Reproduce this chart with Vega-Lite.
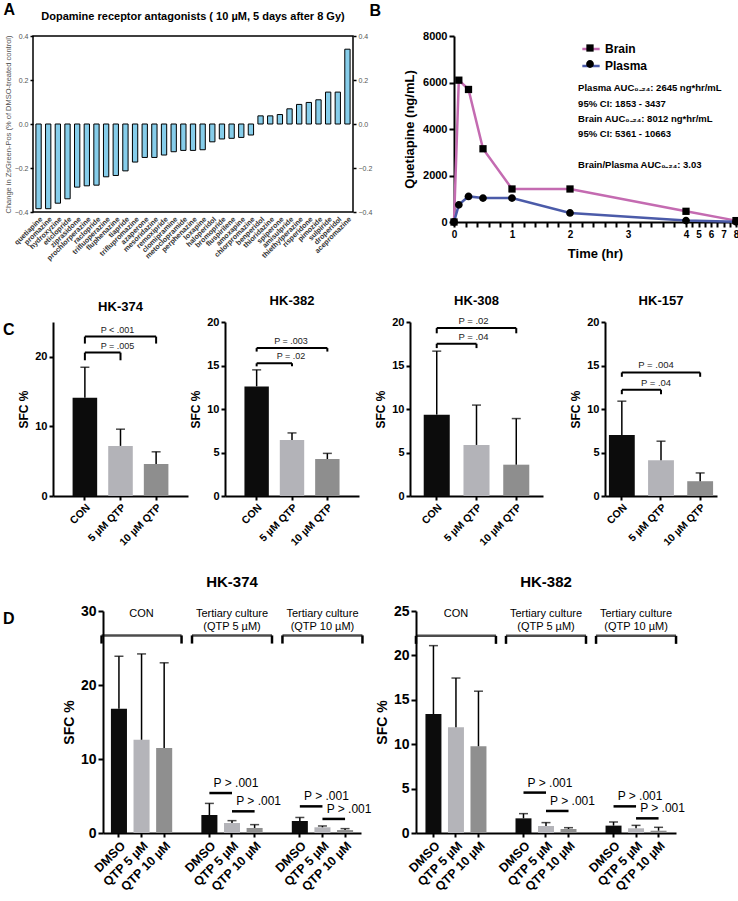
{
"$schema": "https://vega.github.io/schema/vega-lite/v6.json",
"background": "white",
"padding": {"left": 3, "top": 2, "right": 2, "bottom": 0},
"config": {
  "font": "Liberation Sans",
  "view": {"stroke": null},
  "axis": {"grid": false, "domainColor": "black", "domainWidth": 2, "tickColor": "black", "tickWidth": 2, "tickSize": 4, "labelColor": "black", "labelFontWeight": "bold", "labelFontSize": 11, "titleColor": "black", "titleFontWeight": "bold", "titleFontSize": 12, "labelPadding": 2, "titlePadding": 4},
  "title": {"color": "black", "fontWeight": "bold", "fontSize": 13}
},
"columns": 1,
"align": "none",
"spacing": 27,
"resolve": {"scale": {"color": "independent", "shape": "independent"}},
"concat": [
 {"columns": 1, "align": "none", "spacing": 32,
  "resolve": {"scale": {"color": "independent", "shape": "independent"}},
  "concat": [
  {"title": {"text": "A", "anchor": "start", "frame": "bounds", "fontSize": 16, "offset": -15, "dx": 0},
   "spacing": -4,
   "resolve": {"scale": {"color": "independent", "shape": "independent"}},
   "hconcat": [
    {"width": 320, "height": 176,
     "view": {"stroke": "black", "strokeWidth": 1.5},
     "title": {"text": "Dopamine receptor antagonists ( 10 µM, 5 days after 8 Gy)", "fontSize": 11, "offset": 10},
     "data": {"values": [
      {"drug": "quetiapine", "change": -0.385},
      {"drug": "promazine", "change": -0.385},
      {"drug": "hydroxyzine", "change": -0.36},
      {"drug": "eticlopride", "change": -0.34},
      {"drug": "ziprasidone", "change": -0.287},
      {"drug": "prochlorperazine", "change": -0.281},
      {"drug": "raclopride", "change": -0.278},
      {"drug": "trifluoperazine", "change": -0.24},
      {"drug": "fluphenazine", "change": -0.234},
      {"drug": "tiapride", "change": -0.213},
      {"drug": "triflupromazine", "change": -0.173},
      {"drug": "azaperone", "change": -0.152},
      {"drug": "mesoridazine", "change": -0.152},
      {"drug": "remoxipride", "change": -0.141},
      {"drug": "clomipramine", "change": -0.126},
      {"drug": "metoclopramide", "change": -0.12},
      {"drug": "perphenazine", "change": -0.12},
      {"drug": "loxapine", "change": -0.117},
      {"drug": "haloperidol", "change": -0.081},
      {"drug": "bromopride", "change": -0.068},
      {"drug": "fluspirilene", "change": -0.065},
      {"drug": "amoxapine", "change": -0.061},
      {"drug": "chlorpromazine", "change": -0.05},
      {"drug": "benperidol", "change": 0.037},
      {"drug": "thioridazine", "change": 0.037},
      {"drug": "spiperone", "change": 0.043},
      {"drug": "amisulpride", "change": 0.069},
      {"drug": "thiethylperazine", "change": 0.089},
      {"drug": "risperidone", "change": 0.098},
      {"drug": "pimozide", "change": 0.11},
      {"drug": "sulpiride", "change": 0.145},
      {"drug": "droperidol", "change": 0.145},
      {"drug": "acepromazine", "change": 0.34}
     ]},
     "encoding": {"x": {"field": "drug", "type": "nominal", "sort": null, "title": null,
        "scale": {"paddingInner": 0.45, "paddingOuter": 0.3},
        "axis": {"labelAngle": -45, "labelFontSize": 7.2, "labelColor": "#333", "ticks": false, "domain": false, "labelPadding": 3}}},
     "layer": [
      {"mark": {"type": "bar", "fill": "#86cdea", "stroke": "black", "strokeWidth": 1},
       "encoding": {"y": {"field": "change", "type": "quantitative", "scale": {"domain": [-0.4, 0.4], "nice": false},
         "axis": {"values": [-0.4, -0.2, 0, 0.2, 0.4], "format": ".1f", "title": "Change in ZsGreen-Pos (% of DMSO-treated control)", "titleFontSize": 7.5, "titleFontWeight": "normal", "titleColor": "#555", "labelFontSize": 7, "labelFontWeight": "normal", "labelColor": "#555", "domain": false, "tickSize": 3, "tickWidth": 1.5, "titlePadding": 2}}}},
      {"mark": {"type": "bar", "opacity": 0},
       "encoding": {"y": {"field": "change", "type": "quantitative", "scale": {"domain": [-0.4, 0.4], "nice": false},
         "axis": {"orient": "right", "values": [-0.4, -0.2, 0, 0.2, 0.4], "format": ".1f", "title": null, "labelFontSize": 7, "labelFontWeight": "normal", "labelColor": "#555", "domain": false, "tickSize": 3, "tickWidth": 1.5}}}}
     ],
     "resolve": {"scale": {"y": "independent"}, "axis": {"y": "independent"}}
    },
    {"width": 282, "height": 186,
     "title": {"text": "B", "anchor": "start", "frame": "bounds", "fontSize": 16, "offset": 11, "dx": -34},
     "data": {"values": [
      {"series": "Brain", "time": 0, "conc": 0},
      {"series": "Brain", "time": 0.083, "conc": 6100},
      {"series": "Brain", "time": 0.25, "conc": 5700},
      {"series": "Brain", "time": 0.5, "conc": 3150},
      {"series": "Brain", "time": 1, "conc": 1420},
      {"series": "Brain", "time": 2, "conc": 1420},
      {"series": "Brain", "time": 4, "conc": 460},
      {"series": "Brain", "time": 8, "conc": 60},
      {"series": "Plasma", "time": 0, "conc": 0},
      {"series": "Plasma", "time": 0.083, "conc": 740},
      {"series": "Plasma", "time": 0.25, "conc": 1100},
      {"series": "Plasma", "time": 0.5, "conc": 1030},
      {"series": "Plasma", "time": 1, "conc": 1030},
      {"series": "Plasma", "time": 2, "conc": 390},
      {"series": "Plasma", "time": 4, "conc": 60},
      {"series": "Plasma", "time": 8, "conc": 10}
     ]},
     "encoding": {
      "x": {"field": "time", "type": "quantitative", "title": "Time (hr)",
        "scale": {"domain": [0, 4, 8], "range": [0, 232, 282], "nice": false, "zero": false},
        "axis": {"titleFontSize": 13, "titlePadding": 8, "values": [0,0.2,0.4,0.6,0.8,1,1.2,1.4,1.6,1.8,2,2.2,2.4,2.6,2.8,3,3.2,3.4,3.6,3.8,4,4.5,5,5.5,6,6.5,7,7.5,8], "labelExpr": "datum.value % 1 === 0 ? format(datum.value, 'd') : ''", "labelOverlap": false, "tickSize": 5, "labelFontSize": 10, "labelFlush": false}},
      "y": {"field": "conc", "type": "quantitative", "title": "Quetiapine (ng/mL)",
        "scale": {"domain": [0, 8000], "nice": false},
        "axis": {"titleFontSize": 13, "values": [0, 2000, 4000, 6000, 8000], "format": "d", "tickSize": 5, "titlePadding": 6}}
     },
     "layer": [
      {"mark": {"type": "line", "strokeWidth": 2.5},
       "encoding": {"color": {"field": "series", "type": "nominal",
         "scale": {"domain": ["Brain", "Plasma"], "range": ["#c46bb1", "#4b5ba9"]},
         "legend": {"title": null, "orient": "none", "legendX": 127, "legendY": 3, "symbolType": "stroke", "symbolSize": 300, "symbolStrokeWidth": 2.5, "labelFontSize": 12, "labelFontWeight": "bold", "labelColor": "black", "rowPadding": 1, "zindex": 1}}}},
      {"mark": {"type": "point", "filled": true, "color": "black", "size": 300, "opacity": 1},
       "encoding": {"shape": {"field": "series", "type": "nominal",
         "scale": {"range": ["M-0.42,-0.42H0.42V0.42H-0.42Z", "M0.45,0A0.45,0.45,0,1,1,-0.45,0A0.45,0.45,0,1,1,0.45,0Z"]},
         "legend": {"title": null, "orient": "none", "legendX": 127, "legendY": 3, "symbolSize": 300, "symbolFillColor": "black", "symbolStrokeColor": "black", "symbolStrokeWidth": 0, "labelFontSize": 12, "labelFontWeight": "bold", "labelExpr": "''", "rowPadding": 1, "zindex": 2}}}},
      {"data": {"values": [
        {"t": 2.14, "c": 5760, "txt": "Plasma AUC₀₋₂₄: 2645 ng*hr/mL"},
        {"t": 2.14, "c": 5090, "txt": "95% CI: 1853 - 3437"},
        {"t": 2.14, "c": 4440, "txt": "Brain AUC₀₋₂₄: 8012 ng*hr/mL"},
        {"t": 2.14, "c": 3790, "txt": "95% CI: 5361 -  10663"},
        {"t": 2.14, "c": 2470, "txt": "Brain/Plasma AUC₀₋₂₄: 3.03"}
       ]},
       "mark": {"type": "text", "align": "left", "baseline": "middle", "fontSize": 9.5, "fontWeight": "bold", "color": "black"},
       "encoding": {"x": {"field": "t", "type": "quantitative"}, "y": {"field": "c", "type": "quantitative"}, "text": {"field": "txt"}}}
     ]
    }
   ]
  },
  {"spacing": -17,
   "resolve": {"scale": {"color": "independent", "shape": "independent"}},
   "hconcat": [
    {"width": 1, "height": 1, "data": {"values": []}, "mark": {"type": "point", "opacity": 0},
     "title": {"text": "C", "anchor": "start", "fontSize": 16, "offset": -16, "dx": -30}},
    {"spacing": 15, "hconcat": [
    {"spacing": 1, "hconcat": [
     {"width": 135, "height": 174,
      "title": {"text": "HK-374", "offset": 8},
      "layer": [
       {"data": {"name": "c1"}, "mark": "bar",
        "encoding": {
         "x": {"field": "cond", "type": "nominal", "sort": null, "title": null, "scale": {"domain": ["CON", "5 µM QTP", "10 µM QTP"], "paddingInner": 0.31, "paddingOuter": 0.55}, "axis": {"labelAngle": -45, "labelFontSize": 10.5}},
         "y": {"field": "value", "type": "quantitative", "title": "SFC %", "scale": {"domain": [0, 25], "nice": false}, "axis": {"values": [0, 5, 10, 15, 20, 25]}},
         "color": {"field": "cond", "type": "nominal", "scale": {"domain": ["CON", "5 µM QTP", "10 µM QTP"], "range": ["#0c0c0c", "#b3b3b8", "#8e8e8e"]}, "legend": null}}},
       {"data": {"name": "c1"}, "mark": {"type": "rule", "color": "black", "strokeWidth": 1.5},
        "encoding": {"x": {"field": "cond", "type": "nominal", "title": null}, "y": {"field": "value", "type": "quantitative", "title": "SFC %"}, "y2": {"field": "hi"}}},
       {"data": {"name": "c1"}, "mark": {"type": "tick", "orient": "horizontal", "color": "black", "thickness": 1.5, "size": 9},
        "encoding": {"x": {"field": "cond", "type": "nominal", "title": null}, "y": {"field": "hi", "type": "quantitative", "title": "SFC %"}}},
       {"data": {"name": "c1b"}, "mark": {"type": "rule", "color": "black", "strokeWidth": 2},
        "encoding": {"x": {"field": "from", "type": "nominal", "title": null}, "x2": {"field": "to"}, "y": {"field": "lev", "type": "quantitative", "title": "SFC %"}}},
       {"data": {"name": "c1b"}, "transform": [{"fold": ["from", "to"], "as": ["end", "cat"]}], "mark": {"type": "rule", "color": "black", "strokeWidth": 2},
        "encoding": {"x": {"field": "cat", "type": "nominal", "title": null}, "y": {"field": "lev", "type": "quantitative", "title": "SFC %"}, "y2": {"field": "lo"}}},
       {"data": {"name": "c1b"}, "mark": {"type": "text", "baseline": "bottom", "dy": -2, "dx": -3, "fontSize": 9, "color": "#222"},
        "encoding": {"x": {"field": "at", "type": "nominal", "title": null}, "y": {"field": "lev", "type": "quantitative", "title": "SFC %"}, "text": {"field": "label"}}}
      ]
     },
     {"width": 134, "height": 174,
      "title": {"text": "HK-382", "offset": 8},
      "layer": [
       {"data": {"name": "c2"}, "mark": "bar",
        "encoding": {
         "x": {"field": "cond", "type": "nominal", "sort": null, "title": null, "scale": {"domain": ["CON", "5 µM QTP", "10 µM QTP"], "paddingInner": 0.31, "paddingOuter": 0.55}, "axis": {"labelAngle": -45, "labelFontSize": 10.5}},
         "y": {"field": "value", "type": "quantitative", "title": "SFC %", "scale": {"domain": [0, 20], "nice": false}, "axis": {"values": [0, 5, 10, 15, 20]}},
         "color": {"field": "cond", "type": "nominal", "scale": {"domain": ["CON", "5 µM QTP", "10 µM QTP"], "range": ["#0c0c0c", "#b3b3b8", "#8e8e8e"]}, "legend": null}}},
       {"data": {"name": "c2"}, "mark": {"type": "rule", "color": "black", "strokeWidth": 1.5},
        "encoding": {"x": {"field": "cond", "type": "nominal", "title": null}, "y": {"field": "value", "type": "quantitative", "title": "SFC %"}, "y2": {"field": "hi"}}},
       {"data": {"name": "c2"}, "mark": {"type": "tick", "orient": "horizontal", "color": "black", "thickness": 1.5, "size": 9},
        "encoding": {"x": {"field": "cond", "type": "nominal", "title": null}, "y": {"field": "hi", "type": "quantitative", "title": "SFC %"}}},
       {"data": {"name": "c2b"}, "mark": {"type": "rule", "color": "black", "strokeWidth": 2},
        "encoding": {"x": {"field": "from", "type": "nominal", "title": null}, "x2": {"field": "to"}, "y": {"field": "lev", "type": "quantitative", "title": "SFC %"}}},
       {"data": {"name": "c2b"}, "transform": [{"fold": ["from", "to"], "as": ["end", "cat"]}], "mark": {"type": "rule", "color": "black", "strokeWidth": 2},
        "encoding": {"x": {"field": "cat", "type": "nominal", "title": null}, "y": {"field": "lev", "type": "quantitative", "title": "SFC %"}, "y2": {"field": "lo"}}},
       {"data": {"name": "c2b"}, "mark": {"type": "text", "baseline": "bottom", "dy": -2, "dx": -1, "fontSize": 9, "color": "#222"},
        "encoding": {"x": {"field": "at", "type": "nominal", "title": null}, "y": {"field": "lev", "type": "quantitative", "title": "SFC %"}, "text": {"field": "label"}}}
      ]
     }
    ]},
    {"spacing": 26, "hconcat": [
     {"width": 133, "height": 174,
      "title": {"text": "HK-308", "offset": 8},
      "layer": [
       {"data": {"name": "c3"}, "mark": "bar",
        "encoding": {
         "x": {"field": "cond", "type": "nominal", "sort": null, "title": null, "scale": {"domain": ["CON", "5 µM QTP", "10 µM QTP"], "paddingInner": 0.345, "paddingOuter": 0.345}, "axis": {"labelAngle": -45, "labelFontSize": 10.5}},
         "y": {"field": "value", "type": "quantitative", "title": "SFC %", "scale": {"domain": [0, 20], "nice": false}, "axis": {"values": [0, 5, 10, 15, 20]}},
         "color": {"field": "cond", "type": "nominal", "scale": {"domain": ["CON", "5 µM QTP", "10 µM QTP"], "range": ["#0c0c0c", "#b3b3b8", "#8e8e8e"]}, "legend": null}}},
       {"data": {"name": "c3"}, "mark": {"type": "rule", "color": "black", "strokeWidth": 1.5},
        "encoding": {"x": {"field": "cond", "type": "nominal", "title": null}, "y": {"field": "value", "type": "quantitative", "title": "SFC %"}, "y2": {"field": "hi"}}},
       {"data": {"name": "c3"}, "mark": {"type": "tick", "orient": "horizontal", "color": "black", "thickness": 1.5, "size": 9},
        "encoding": {"x": {"field": "cond", "type": "nominal", "title": null}, "y": {"field": "hi", "type": "quantitative", "title": "SFC %"}}},
       {"data": {"name": "c3b"}, "mark": {"type": "rule", "color": "black", "strokeWidth": 2},
        "encoding": {"x": {"field": "from", "type": "nominal", "title": null}, "x2": {"field": "to"}, "y": {"field": "lev", "type": "quantitative", "title": "SFC %"}}},
       {"data": {"name": "c3b"}, "transform": [{"fold": ["from", "to"], "as": ["end", "cat"]}], "mark": {"type": "rule", "color": "black", "strokeWidth": 2},
        "encoding": {"x": {"field": "cat", "type": "nominal", "title": null}, "y": {"field": "lev", "type": "quantitative", "title": "SFC %"}, "y2": {"field": "lo"}}},
       {"data": {"name": "c3b"}, "mark": {"type": "text", "baseline": "bottom", "dy": -2, "dx": -3, "fontSize": 9.5, "color": "#222"},
        "encoding": {"x": {"field": "at", "type": "nominal", "title": null}, "y": {"field": "lev", "type": "quantitative", "title": "SFC %"}, "text": {"field": "label"}}}
      ]
     },
     {"width": 112, "height": 174,
      "title": {"text": "HK-157", "offset": 8},
      "layer": [
       {"data": {"name": "c4"}, "mark": "bar",
        "encoding": {
         "x": {"field": "cond", "type": "nominal", "sort": null, "title": null, "scale": {"domain": ["CON", "5 µM QTP", "10 µM QTP"], "paddingInner": 0.34, "paddingOuter": 0.1}, "axis": {"labelAngle": -45, "labelFontSize": 10.5}},
         "y": {"field": "value", "type": "quantitative", "title": "SFC %", "scale": {"domain": [0, 20], "nice": false}, "axis": {"values": [0, 5, 10, 15, 20]}},
         "color": {"field": "cond", "type": "nominal", "scale": {"domain": ["CON", "5 µM QTP", "10 µM QTP"], "range": ["#0c0c0c", "#b3b3b8", "#8e8e8e"]}, "legend": null}}},
       {"data": {"name": "c4"}, "mark": {"type": "rule", "color": "black", "strokeWidth": 1.5},
        "encoding": {"x": {"field": "cond", "type": "nominal", "title": null}, "y": {"field": "value", "type": "quantitative", "title": "SFC %"}, "y2": {"field": "hi"}}},
       {"data": {"name": "c4"}, "mark": {"type": "tick", "orient": "horizontal", "color": "black", "thickness": 1.5, "size": 9},
        "encoding": {"x": {"field": "cond", "type": "nominal", "title": null}, "y": {"field": "hi", "type": "quantitative", "title": "SFC %"}}},
       {"data": {"name": "c4b"}, "mark": {"type": "rule", "color": "black", "strokeWidth": 2},
        "encoding": {"x": {"field": "from", "type": "nominal", "title": null}, "x2": {"field": "to"}, "y": {"field": "lev", "type": "quantitative", "title": "SFC %"}}},
       {"data": {"name": "c4b"}, "transform": [{"fold": ["from", "to"], "as": ["end", "cat"]}], "mark": {"type": "rule", "color": "black", "strokeWidth": 2},
        "encoding": {"x": {"field": "cat", "type": "nominal", "title": null}, "y": {"field": "lev", "type": "quantitative", "title": "SFC %"}, "y2": {"field": "lo"}}},
       {"data": {"name": "c4b"}, "mark": {"type": "text", "baseline": "bottom", "dy": -2, "dx": -5, "fontSize": 9.5, "color": "#222"},
        "encoding": {"x": {"field": "at", "type": "nominal", "title": null}, "y": {"field": "lev", "type": "quantitative", "title": "SFC %"}, "text": {"field": "label"}}}
      ]
     }
    ]}
   ]}
   ]
  }
 ]},
 {"spacing": 28,
  "resolve": {"scale": {"color": "independent", "shape": "independent"}},
  "hconcat": [
   {"width": 1, "height": 1, "data": {"values": []}, "mark": {"type": "point", "opacity": 0},
    "title": {"text": "D", "anchor": "start", "fontSize": 16, "offset": -16, "dx": -30}},
   {"spacing": 3, "hconcat": [
   {"width": 258, "height": 222,
    "title": {"text": "HK-374", "fontSize": 15, "offset": 14},
    "layer": [
     {"data": {"name": "d1"}, "mark": "bar",
      "encoding": {
       "x": {"field": "bar", "type": "nominal", "title": null,
         "scale": {"domain": ["DMSO|CON", "QTP 5 µM|CON", "QTP 10 µM|CON", "|s1", "DMSO|T5", "QTP 5 µM|T5", "QTP 10 µM|T5", "|s2", "DMSO|T10", "QTP 5 µM|T10", "QTP 10 µM|T10"], "paddingInner": 0.29, "paddingOuter": 0.35},
         "axis": {"values": ["DMSO|CON", "QTP 5 µM|CON", "QTP 10 µM|CON", "DMSO|T5", "QTP 5 µM|T5", "QTP 10 µM|T5", "DMSO|T10", "QTP 5 µM|T10", "QTP 10 µM|T10"], "labelExpr": "split(datum.value, '|')[0]", "labelAngle": -45, "labelFontSize": 12.5, "tickSize": 4}},
       "y": {"field": "value", "type": "quantitative", "title": "SFC %", "scale": {"domain": [0, 30], "nice": false}, "axis": {"values": [0, 10, 20, 30], "labelFontSize": 14, "titleFontSize": 14, "tickSize": 5}},
       "color": {"field": "trt", "type": "nominal", "scale": {"domain": ["DMSO", "QTP 5 µM", "QTP 10 µM"], "range": ["#0c0c0c", "#b4b4b9", "#8f8f8f"]}, "legend": null}}},
     {"data": {"name": "d1"}, "mark": {"type": "rule", "color": "black", "strokeWidth": 1.5},
      "encoding": {"x": {"field": "bar", "type": "nominal", "title": null}, "y": {"field": "value", "type": "quantitative", "title": "SFC %"}, "y2": {"field": "hi"}}},
     {"data": {"name": "d1"}, "mark": {"type": "tick", "orient": "horizontal", "color": "black", "thickness": 1.5, "size": 9},
      "encoding": {"x": {"field": "bar", "type": "nominal", "title": null}, "y": {"field": "hi", "type": "quantitative", "title": "SFC %"}}},
     {"data": {"name": "d1top"}, "mark": {"type": "tick", "orient": "horizontal", "color": "black", "thickness": 2.5, "size": 80},
      "encoding": {"x": {"field": "mid", "type": "nominal", "title": null}, "y": {"field": "lev", "type": "quantitative", "title": "SFC %"}}},
     {"data": {"name": "d1top"}, "mark": {"type": "rule", "color": "black", "strokeWidth": 2.5, "xOffset": -40},
      "encoding": {"x": {"field": "mid", "type": "nominal", "title": null}, "y": {"field": "lev", "type": "quantitative", "title": "SFC %"}, "y2": {"field": "lo"}}},
     {"data": {"name": "d1top"}, "mark": {"type": "rule", "color": "black", "strokeWidth": 2.5, "xOffset": 40},
      "encoding": {"x": {"field": "mid", "type": "nominal", "title": null}, "y": {"field": "lev", "type": "quantitative", "title": "SFC %"}, "y2": {"field": "lo"}}},
     {"data": {"name": "d1top"}, "mark": {"type": "text", "baseline": "top", "lineBreak": "\n", "fontSize": 11, "lineHeight": 13, "color": "black"},
      "encoding": {"x": {"field": "mid", "type": "nominal", "title": null}, "y": {"field": "ty", "type": "quantitative", "title": "SFC %"}, "text": {"field": "label"}}},
     {"data": {"name": "d1p"}, "mark": {"type": "rule", "color": "black", "strokeWidth": 2.5},
      "encoding": {"x": {"field": "from", "type": "nominal", "title": null}, "x2": {"field": "to"}, "y": {"field": "lev", "type": "quantitative", "title": "SFC %"}}},
     {"data": {"name": "d1p"}, "mark": {"type": "text", "baseline": "bottom", "dy": -3, "dx": 4, "fontSize": 12, "color": "black"},
      "encoding": {"x": {"field": "to", "type": "nominal", "title": null}, "y": {"field": "lev", "type": "quantitative", "title": "SFC %"}, "text": {"field": "label"}}}
    ]
   },
   {"width": 260, "height": 222,
    "title": {"text": "HK-382", "fontSize": 15, "offset": 14},
    "layer": [
     {"data": {"name": "d2"}, "mark": "bar",
      "encoding": {
       "x": {"field": "bar", "type": "nominal", "title": null,
         "scale": {"domain": ["DMSO|CON", "QTP 5 µM|CON", "QTP 10 µM|CON", "|s1", "DMSO|T5", "QTP 5 µM|T5", "QTP 10 µM|T5", "|s2", "DMSO|T10", "QTP 5 µM|T10", "QTP 10 µM|T10"], "paddingInner": 0.29, "paddingOuter": 0.42},
         "axis": {"values": ["DMSO|CON", "QTP 5 µM|CON", "QTP 10 µM|CON", "DMSO|T5", "QTP 5 µM|T5", "QTP 10 µM|T5", "DMSO|T10", "QTP 5 µM|T10", "QTP 10 µM|T10"], "labelExpr": "split(datum.value, '|')[0]", "labelAngle": -45, "labelFontSize": 12.5, "tickSize": 4}},
       "y": {"field": "value", "type": "quantitative", "title": "SFC %", "scale": {"domain": [0, 25], "nice": false}, "axis": {"values": [0, 5, 10, 15, 20, 25], "labelFontSize": 14, "titleFontSize": 14, "tickSize": 5}},
       "color": {"field": "trt", "type": "nominal", "scale": {"domain": ["DMSO", "QTP 5 µM", "QTP 10 µM"], "range": ["#0c0c0c", "#b4b4b9", "#8f8f8f"]}, "legend": null}}},
     {"data": {"name": "d2"}, "mark": {"type": "rule", "color": "black", "strokeWidth": 1.5},
      "encoding": {"x": {"field": "bar", "type": "nominal", "title": null}, "y": {"field": "value", "type": "quantitative", "title": "SFC %"}, "y2": {"field": "hi"}}},
     {"data": {"name": "d2"}, "mark": {"type": "tick", "orient": "horizontal", "color": "black", "thickness": 1.5, "size": 9},
      "encoding": {"x": {"field": "bar", "type": "nominal", "title": null}, "y": {"field": "hi", "type": "quantitative", "title": "SFC %"}}},
     {"data": {"name": "d2top"}, "mark": {"type": "tick", "orient": "horizontal", "color": "black", "thickness": 2.5, "size": 80},
      "encoding": {"x": {"field": "mid", "type": "nominal", "title": null}, "y": {"field": "lev", "type": "quantitative", "title": "SFC %"}}},
     {"data": {"name": "d2top"}, "mark": {"type": "rule", "color": "black", "strokeWidth": 2.5, "xOffset": -40},
      "encoding": {"x": {"field": "mid", "type": "nominal", "title": null}, "y": {"field": "lev", "type": "quantitative", "title": "SFC %"}, "y2": {"field": "lo"}}},
     {"data": {"name": "d2top"}, "mark": {"type": "rule", "color": "black", "strokeWidth": 2.5, "xOffset": 40},
      "encoding": {"x": {"field": "mid", "type": "nominal", "title": null}, "y": {"field": "lev", "type": "quantitative", "title": "SFC %"}, "y2": {"field": "lo"}}},
     {"data": {"name": "d2top"}, "mark": {"type": "text", "baseline": "top", "lineBreak": "\n", "fontSize": 11, "lineHeight": 13, "color": "black"},
      "encoding": {"x": {"field": "mid", "type": "nominal", "title": null}, "y": {"field": "ty", "type": "quantitative", "title": "SFC %"}, "text": {"field": "label"}}},
     {"data": {"name": "d2p"}, "mark": {"type": "rule", "color": "black", "strokeWidth": 2.5},
      "encoding": {"x": {"field": "from", "type": "nominal", "title": null}, "x2": {"field": "to"}, "y": {"field": "lev", "type": "quantitative", "title": "SFC %"}}},
     {"data": {"name": "d2p"}, "mark": {"type": "text", "baseline": "bottom", "dy": -3, "dx": 4, "fontSize": 12, "color": "black"},
      "encoding": {"x": {"field": "to", "type": "nominal", "title": null}, "y": {"field": "lev", "type": "quantitative", "title": "SFC %"}, "text": {"field": "label"}}}
    ]
   }
   ]}
  ]
 }
],
"datasets": {
 "c1": [
  {"cond": "CON", "value": 14.1, "hi": 18.5},
  {"cond": "5 µM QTP", "value": 7.2, "hi": 9.6},
  {"cond": "10 µM QTP", "value": 4.6, "hi": 6.35}
 ],
 "c1b": [
  {"from": "CON", "to": "10 µM QTP", "at": "5 µM QTP", "lev": 22.9, "lo": 21.9, "label": "P < .001"},
  {"from": "CON", "to": "5 µM QTP", "at": "5 µM QTP", "lev": 20.6, "lo": 19.5, "label": "P = .005"}
 ],
 "c2": [
  {"cond": "CON", "value": 12.6, "hi": 14.5},
  {"cond": "5 µM QTP", "value": 6.45, "hi": 7.25},
  {"cond": "10 µM QTP", "value": 4.25, "hi": 4.9}
 ],
 "c2b": [
  {"from": "CON", "to": "10 µM QTP", "at": "5 µM QTP", "lev": 17.0, "lo": 16.6, "label": "P = .003"},
  {"from": "CON", "to": "5 µM QTP", "at": "5 µM QTP", "lev": 15.25, "lo": 14.9, "label": "P = .02"}
 ],
 "c3": [
  {"cond": "CON", "value": 9.35, "hi": 16.65},
  {"cond": "5 µM QTP", "value": 5.87, "hi": 10.45},
  {"cond": "10 µM QTP", "value": 3.6, "hi": 8.9}
 ],
 "c3b": [
  {"from": "CON", "to": "10 µM QTP", "at": "5 µM QTP", "lev": 19.3, "lo": 18.7, "label": "P = .02"},
  {"from": "CON", "to": "5 µM QTP", "at": "5 µM QTP", "lev": 17.5, "lo": 17.0, "label": "P = .04"}
 ],
 "c4": [
  {"cond": "CON", "value": 7.0, "hi": 10.9},
  {"cond": "5 µM QTP", "value": 4.1, "hi": 6.3},
  {"cond": "10 µM QTP", "value": 1.7, "hi": 2.65}
 ],
 "c4b": [
  {"from": "CON", "to": "10 µM QTP", "at": "5 µM QTP", "lev": 14.2, "lo": 13.7, "label": "P = .004"},
  {"from": "CON", "to": "5 µM QTP", "at": "5 µM QTP", "lev": 12.2, "lo": 11.7, "label": "P = .04"}
 ],
 "d1": [
  {"bar": "DMSO|CON", "trt": "DMSO", "value": 16.8, "hi": 23.9},
  {"bar": "QTP 5 µM|CON", "trt": "QTP 5 µM", "value": 12.6, "hi": 24.2},
  {"bar": "QTP 10 µM|CON", "trt": "QTP 10 µM", "value": 11.5, "hi": 23.0},
  {"bar": "DMSO|T5", "trt": "DMSO", "value": 2.43, "hi": 4.0},
  {"bar": "QTP 5 µM|T5", "trt": "QTP 5 µM", "value": 1.35, "hi": 1.67},
  {"bar": "QTP 10 µM|T5", "trt": "QTP 10 µM", "value": 0.68, "hi": 1.13},
  {"bar": "DMSO|T10", "trt": "DMSO", "value": 1.62, "hi": 2.1},
  {"bar": "QTP 5 µM|T10", "trt": "QTP 5 µM", "value": 0.77, "hi": 0.95},
  {"bar": "QTP 10 µM|T10", "trt": "QTP 10 µM", "value": 0.4, "hi": 0.59}
 ],
 "d1top": [
  {"mid": "QTP 5 µM|CON", "lev": 26.7, "lo": 25.6, "ty": 30.4, "label": "CON"},
  {"mid": "QTP 5 µM|T5", "lev": 26.7, "lo": 25.6, "ty": 30.4, "label": "Tertiary culture\n(QTP 5 µM)"},
  {"mid": "QTP 5 µM|T10", "lev": 26.7, "lo": 25.6, "ty": 30.4, "label": "Tertiary culture\n(QTP 10 µM)"}
 ],
 "d1p": [
  {"from": "DMSO|T5", "to": "QTP 5 µM|T5", "lev": 5.4, "label": "P > .001"},
  {"from": "QTP 5 µM|T5", "to": "QTP 10 µM|T5", "lev": 2.93, "label": "P > .001"},
  {"from": "DMSO|T10", "to": "QTP 5 µM|T10", "lev": 3.6, "label": "P > .001"},
  {"from": "QTP 5 µM|T10", "to": "QTP 10 µM|T10", "lev": 1.9, "label": "P > .001"}
 ],
 "d2": [
  {"bar": "DMSO|CON", "trt": "DMSO", "value": 13.4, "hi": 21.1},
  {"bar": "QTP 5 µM|CON", "trt": "QTP 5 µM", "value": 11.9, "hi": 17.45},
  {"bar": "QTP 10 µM|CON", "trt": "QTP 10 µM", "value": 9.77, "hi": 15.97},
  {"bar": "DMSO|T5", "trt": "DMSO", "value": 1.65, "hi": 2.18},
  {"bar": "QTP 5 µM|T5", "trt": "QTP 5 µM", "value": 0.79, "hi": 1.17},
  {"bar": "QTP 10 µM|T5", "trt": "QTP 10 µM", "value": 0.45, "hi": 0.6},
  {"bar": "DMSO|T10", "trt": "DMSO", "value": 0.83, "hi": 1.24},
  {"bar": "QTP 5 µM|T10", "trt": "QTP 5 µM", "value": 0.53, "hi": 0.86},
  {"bar": "QTP 10 µM|T10", "trt": "QTP 10 µM", "value": 0.26, "hi": 0.64}
 ],
 "d2top": [
  {"mid": "QTP 5 µM|CON", "lev": 22.2, "lo": 21.3, "ty": 25.3, "label": "CON"},
  {"mid": "QTP 5 µM|T5", "lev": 22.2, "lo": 21.3, "ty": 25.3, "label": "Tertiary culture\n(QTP 5 µM)"},
  {"mid": "QTP 5 µM|T10", "lev": 22.2, "lo": 21.3, "ty": 25.3, "label": "Tertiary culture\n(QTP 10 µM)"}
 ],
 "d2p": [
  {"from": "DMSO|T5", "to": "QTP 5 µM|T5", "lev": 4.55, "label": "P > .001"},
  {"from": "QTP 5 µM|T5", "to": "QTP 10 µM|T5", "lev": 2.48, "label": "P > .001"},
  {"from": "DMSO|T10", "to": "QTP 5 µM|T10", "lev": 3.0, "label": "P > .001"},
  {"from": "QTP 5 µM|T10", "to": "QTP 10 µM|T10", "lev": 1.65, "label": "P > .001"}
 ]
}
}
